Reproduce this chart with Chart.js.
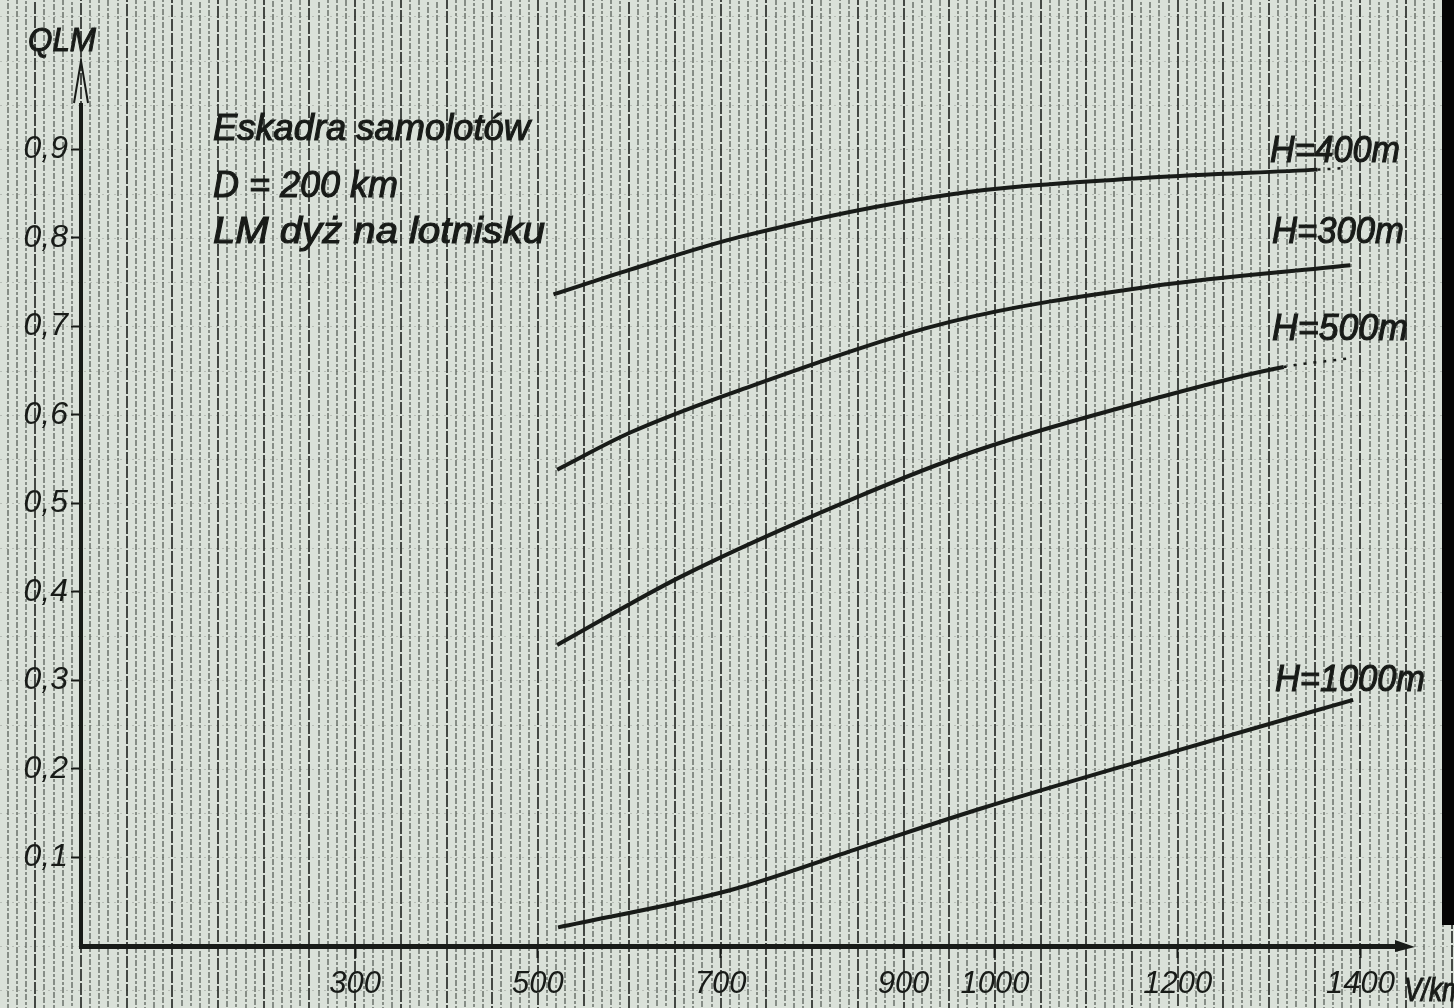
<!DOCTYPE html>
<html>
<head>
<meta charset="utf-8">
<title>QLM - Eskadra samolotów</title>
<script src="https://cdn.jsdelivr.net/npm/chart.js@4.4.1/dist/chart.umd.min.js"></script>
<style>
  html, body { margin: 0; padding: 0; background: #d9e0d8; }
  #wrap { width: 1454px; height: 1008px; position: relative; }
</style>
</head>
<body>
<div id="wrap"><canvas id="chart"></canvas></div>
<script>
// Q_LM against aircraft speed V (km/h), one curve per flight altitude H
const seriesNames = ['H=400m', 'H=300m', 'H=500m', 'H=1000m'];

const speedH400 = [517, 601, 721, 951, 1170, 1353, 1386];
const qH400 = [0.736, 0.764, 0.801, 0.849, 0.868, 0.877, 0.879];

const speedH300 = [521, 601, 721, 951, 1170, 1389];
const qH300 = [0.538, 0.580, 0.628, 0.705, 0.745, 0.769];

const speedH500 = [521, 656, 842, 981, 1170, 1316, 1389];
const qH500 = [0.340, 0.417, 0.504, 0.560, 0.617, 0.654, 0.664];

const speedH1000 = [522, 710, 856, 984, 1170, 1392];
const qH1000 = [0.021, 0.063, 0.112, 0.155, 0.212, 0.278];

// point index from which the drawn curve turns dotted (null = solid all the way)
const dottedFrom = [5, null, 5, null];

const xTickLabels = [300, 500, 700, 900, 1000, 1200, 1400];
const yTickLabels = [0.1, 0.2, 0.3, 0.4, 0.5, 0.6, 0.7, 0.8, 0.9];

const noteLines = ['Eskadra samolotów', 'D = 200 km', 'LM dyż na lotnisku'];

const speeds = [speedH400, speedH300, speedH500, speedH1000];
const qs = [qH400, qH300, qH500, qH1000];

const INK = '#181b18';
const FONT = '"Liberation Sans Narrow", "Liberation Sans", "DejaVu Sans", sans-serif';

const isLabelled = (list, v) => list.some(t => Math.abs(t - v) < 1e-6);

// squeeze a string into a given width, like the stencil lettering of the original
function stencil(ctx, str, x, y, size, width) {
  ctx.save();
  ctx.font = 'italic ' + size + 'px ' + FONT;
  ctx.textBaseline = 'alphabetic';
  ctx.textAlign = 'left';
  const w = ctx.measureText(str).width;
  ctx.translate(x, y);
  ctx.scale(width / w, 1);
  ctx.fillStyle = INK;
  ctx.strokeStyle = INK;
  ctx.lineWidth = 1.1;
  ctx.fillText(str, 0, 0);
  ctx.strokeText(str, 0, 0);
  ctx.restore();
}

const paper = {
  id: 'paper',
  beforeDraw(chart) {
    const { ctx, width, height } = chart;
    const xs = chart.scales.x, ys = chart.scales.y;
    ctx.save();
    ctx.fillStyle = '#dae1d9';
    ctx.fillRect(0, 0, width, height);

    // faint horizontal rulings
    ctx.lineWidth = 1;
    ctx.strokeStyle = 'rgba(60,65,60,0.22)';
    ctx.setLineDash([2, 4]);
    for (let q = -0.1; q <= 1.2; q += 0.05) {
      const py = Math.round(ys.getPixelForValue(q)) + 0.5;
      if (py < 0 || py > height) continue;
      ctx.beginPath(); ctx.moveTo(0, py); ctx.lineTo(width, py); ctx.stroke();
    }

    // dense vertical rulings, every 10 km/h
    let i = 0;
    for (let v = -100; v <= 1600; v += 10, i++) {
      const px = Math.round(xs.getPixelForValue(v));
      if (px < -2 || px > width + 2) continue;
      const major = v % 50 === 0;
      ctx.lineWidth = major ? 2 : 1.5;
      ctx.strokeStyle = major ? 'rgba(30,34,30,0.8)' : 'rgba(40,45,40,0.62)';
      ctx.setLineDash(major ? [12, 2] : [6, 2, 3, 2]);
      ctx.lineDashOffset = (i * 5) % 13;
      ctx.beginPath(); ctx.moveTo(px, 0); ctx.lineTo(px, height); ctx.stroke();
    }

    // dark scan edge on the right border
    ctx.fillStyle = '#050505';
    ctx.fillRect(1442, 0, width - 1442, 925);
    ctx.restore();
  },
  afterDraw(chart) {
    const { ctx, chartArea } = chart;
    const xs = chart.scales.x, ys = chart.scales.y;
    const x0 = xs.getPixelForValue(0);
    const y0 = ys.getPixelForValue(0);
    ctx.save();
    ctx.strokeStyle = INK;
    ctx.fillStyle = INK;
    ctx.setLineDash([]);

    // open arrow head on the Q axis
    ctx.lineWidth = 2;
    ctx.beginPath();
    ctx.moveTo(x0 - 7, chartArea.top - 2);
    ctx.lineTo(x0, chartArea.top - 44);
    ctx.lineTo(x0 + 7, chartArea.top - 2);
    ctx.stroke();

    // arrow head on the V axis
    ctx.beginPath();
    ctx.moveTo(chartArea.right - 2, y0 - 6);
    ctx.lineTo(chartArea.right + 18, y0 + 1);
    ctx.lineTo(chartArea.right - 2, y0 + 6);
    ctx.closePath();
    ctx.fill();

    // axis names
    stencil(ctx, 'QLM', 28, 51, 34, 68);
    stencil(ctx, 'V/km', 1404, 1001, 34, 60);

    // notes
    stencil(ctx, noteLines[0], 213, 140, 36, 317);
    stencil(ctx, noteLines[1], 213, 197, 36, 185);
    stencil(ctx, noteLines[2], 213, 243, 36, 332);

    // curve names
    stencil(ctx, seriesNames[0], 1270, 162, 36, 130);
    stencil(ctx, seriesNames[1], 1272, 243, 36, 132);
    stencil(ctx, seriesNames[2], 1272, 340, 36, 136);
    stencil(ctx, seriesNames[3], 1275, 691, 36, 150);

    ctx.restore();
  }
};

new Chart(document.getElementById('chart'), {
  type: 'line',
  data: {
    datasets: seriesNames.map((name, i) => ({
      label: name,
      data: speeds[i].map((v, j) => ({ x: v, y: qs[i][j] })),
      borderColor: INK,
      borderWidth: 4,
      pointRadius: 0,
      fill: false,
      cubicInterpolationMode: 'monotone',
      segment: {
        borderDash: c => (dottedFrom[i] !== null && c.p0DataIndex >= dottedFrom[i]) ? [3, 7] : undefined,
        borderWidth: c => (dottedFrom[i] !== null && c.p0DataIndex >= dottedFrom[i]) ? 2.5 : undefined
      }
    }))
  },
  options: {
    responsive: true,
    maintainAspectRatio: false,
    animation: false,
    devicePixelRatio: 1,
    layout: { padding: { top: 105, right: 57, bottom: 0, left: 0 } },
    plugins: { legend: { display: false }, tooltip: { enabled: false } },
    scales: {
      x: {
        type: 'linear',
        min: 0,
        max: 1440,
        afterFit: s => { s.height = 62; },
        border: { display: true, color: INK, width: 5 },
        grid: {
          display: true,
          drawOnChartArea: false,
          drawTicks: true,
          tickLength: 12,
          tickWidth: 2,
          tickColor: c => isLabelled(xTickLabels, c.tick.value) ? INK : 'rgba(0,0,0,0)'
        },
        ticks: {
          stepSize: 100,
          includeBounds: false,
          autoSkip: false,
          maxRotation: 0,
          minRotation: 0,
          padding: 8,
          color: INK,
          font: { family: FONT, size: 31, style: 'italic' },
          callback: v => isLabelled(xTickLabels, v) ? String(v) : ''
        }
      },
      y: {
        min: 0,
        max: 0.95,
        afterFit: s => { s.width = 81; },
        border: { display: true, color: INK, width: 4 },
        grid: {
          display: true,
          drawOnChartArea: false,
          drawTicks: true,
          tickLength: 10,
          tickWidth: 2,
          tickColor: c => isLabelled(yTickLabels, c.tick.value) ? INK : 'rgba(0,0,0,0)'
        },
        ticks: {
          stepSize: 0.1,
          includeBounds: false,
          autoSkip: false,
          padding: 3,
          color: INK,
          font: { family: FONT, size: 32, style: 'italic' },
          callback: v => isLabelled(yTickLabels, v) ? v.toFixed(1).replace('.', ',') : ''
        }
      }
    }
  },
  plugins: [paper]
});
</script>
</body>
</html>
